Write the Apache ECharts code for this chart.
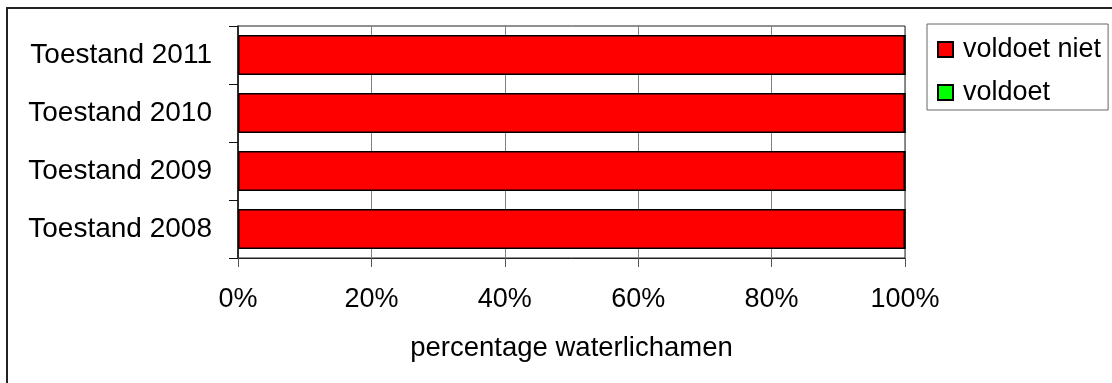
<!DOCTYPE html>
<html>
<head>
<meta charset="utf-8">
<script src="https://cdn.jsdelivr.net/npm/echarts@6/dist/echarts.min.js"></script>
<style>
  html, body { margin: 0; padding: 0; background: #fff; }
  #chart { width: 1112px; height: 383px; }
</style>
</head>
<body>
<div id="chart"></div>
<script>
// Status of water bodies per year (share of water bodies, %)
const categories = ['Toestand 2008', 'Toestand 2009', 'Toestand 2010', 'Toestand 2011'];
const voldoetNiet = [100, 100, 100, 100];
const voldoet = [0, 0, 0, 0];
const xTicks = [0, 20, 40, 60, 80, 100];
const seriesNames = ['voldoet niet', 'voldoet'];
const axisTitle = 'percentage waterlichamen';

const FONT = '"Liberation Sans", Arial, sans-serif';
const chart = echarts.init(document.getElementById('chart'), null, { renderer: 'canvas' });

chart.setOption({
  animation: false,
  backgroundColor: '#ffffff',
  textStyle: { fontFamily: FONT, color: '#000' },
  graphic: [{
    type: 'rect',
    shape: { x: 7, y: 8, width: 1300, height: 600 },
    style: { fill: 'none', stroke: '#222', lineWidth: 2 },
    silent: true
  }],
  grid: {
    left: 238, top: 26, right: 207, bottom: 125,
    show: true, borderColor: '#222', borderWidth: 1
  },
  legend: {
    orient: 'vertical',
    left: 927, top: 24,
    padding: [12, 7, 4, 10],
    itemGap: 16,
    itemWidth: 15, itemHeight: 15,
    borderColor: '#666', borderWidth: 1,
    textStyle: { fontFamily: FONT, fontSize: 27, color: '#000', padding: [0, 0, 0, 5] },
    data: seriesNames.map(n => ({ name: n, icon: 'rect' }))
  },
  xAxis: {
    type: 'value',
    min: xTicks[0], max: xTicks[xTicks.length - 1], interval: xTicks[1] - xTicks[0],
    name: axisTitle,
    nameLocation: 'middle',
    nameGap: 76,
    nameTextStyle: { fontFamily: FONT, fontSize: 27.5, color: '#000' },
    axisLine: { show: true, lineStyle: { color: '#222', width: 1 } },
    axisTick: { show: true, length: 9, lineStyle: { color: '#555', width: 1 } },
    axisLabel: { formatter: '{value}%', fontFamily: FONT, fontSize: 27, color: '#000', margin: 28 },
    splitLine: { show: true, lineStyle: { color: '#808080', width: 1 } }
  },
  yAxis: {
    type: 'category',
    data: categories,
    axisLine: { show: true, lineStyle: { color: '#111', width: 1.5 } },
    axisTick: { show: true, length: 9, lineStyle: { color: '#111', width: 1 } },
    axisLabel: { fontFamily: FONT, fontSize: 28, color: '#000', margin: 26 },
    splitLine: { show: false }
  },
  series: [
    {
      name: seriesNames[0], type: 'bar', stack: 'total',
      data: voldoetNiet, barCategoryGap: '31%',
      itemStyle: { color: '#ff0000', borderColor: '#000', borderWidth: 1.5 }
    },
    {
      name: seriesNames[1], type: 'bar', stack: 'total',
      data: voldoet, barCategoryGap: '31%',
      itemStyle: { color: '#00ff00', borderColor: '#000', borderWidth: 1.5 }
    }
  ]
});
</script>
</body>
</html>
